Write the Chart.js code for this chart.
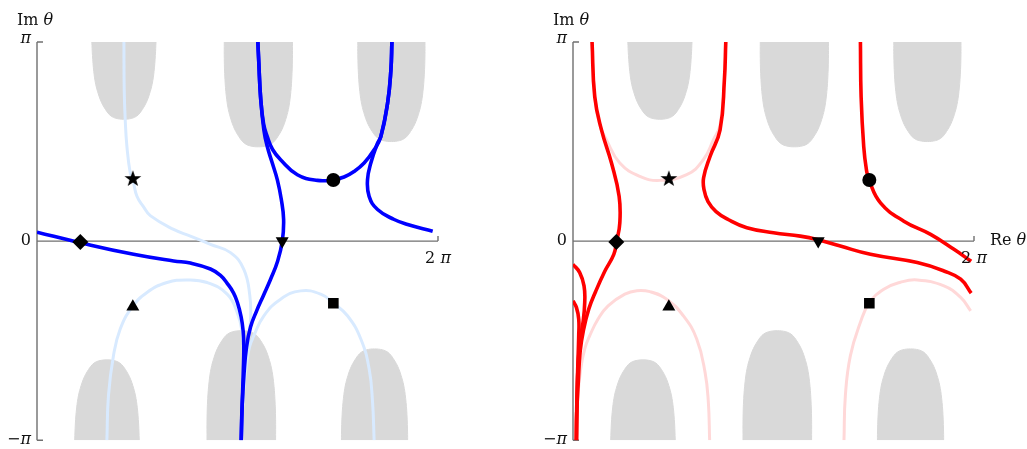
<!DOCTYPE html>
<html>
<head>
<meta charset="utf-8">
<script src="https://cdn.jsdelivr.net/npm/chart.js@4.4.1/dist/chart.umd.min.js"></script>
<style>
  html, body { margin: 0; padding: 0; background: #fff; }
  #wrap { position: relative; width: 1027px; height: 449px; }
  canvas { position: absolute; top: 0; }
  #left  { left: 0; }
  #right { left: 513px; }
</style>
</head>
<body>
<div id="wrap">
  <canvas id="left" width="513" height="449"></canvas>
  <canvas id="right" width="514" height="449"></canvas>
</div>
<script>
// all values in units of pi: x = Re(theta)/pi in 0..2, y = Im(theta)/pi in -1..1

// ── grey regions (same in both panels) ─────────────────────────────────────
// tip profile: distance from tip / half width -> half width fraction
const GRAY_DEPTH = [0, 0.03, 0.1, 0.2, 0.3, 0.45, 0.6, 0.8, 1.1, 1.5, 2.0, 2.6];
const GRAY_HALF  = [0, 0.25, 0.4, 0.5, 0.57, 0.66, 0.73, 0.8, 0.88, 0.94, 0.98, 1.0];
const GRAY_CX    = [0.4335, 1.104, 1.7675, 0.349, 1.019, 1.6835];
const GRAY_HW    = [0.16, 0.17, 0.1675, 0.161, 0.171, 0.165];
const GRAY_TIP   = [0.612, 0.4735, 0.5, -0.5965, -0.45, -0.5415];
const GRAY_SIDE  = [1, 1, 1, -1, -1, -1];   // 1 = hangs from top, -1 = rises from bottom

// ── left panel (blue) ──────────────────────────────────────────────────────
const blueA = [[0,0.045],[0.215,-0.008],[0.4815,-0.0665],[0.6815,-0.1],[0.765,-0.11],[0.865,-0.14],
  [0.915,-0.172],[0.9485,-0.212],[0.98,-0.26],[1.0,-0.31],[1.018,-0.38],[1.028,-0.45],[1.0315,-0.53],
  [1.029,-0.65],[1.024,-0.8],[1.0185,-1]];
const blueB = [[1.1015,1],[1.1065,0.892],[1.115,0.725],[1.1315,0.5585],[1.1485,0.475],[1.1735,0.392],
  [1.1985,0.3085],[1.2185,0.2085],[1.23,0.1085],[1.2235,0],[1.2,-0.1015],[1.165,-0.1915],[1.13,-0.2715],
  [1.095,-0.3515],[1.065,-0.4315],[1.045,-0.5315],[1.0325,-0.6665],[1.0225,-0.8415],[1.0185,-1]];
const blueC = [[1.1015,1],[1.1065,0.892],[1.115,0.725],[1.13,0.59],[1.1485,0.525],[1.175,0.46],
  [1.215,0.4085],[1.2985,0.3335],[1.3985,0.305],[1.4785,0.3085],[1.5315,0.322],[1.5815,0.35],
  [1.6315,0.392],[1.6815,0.4585],[1.715,0.525],[1.7485,0.692],[1.765,0.8585],[1.77,1]];
const blueD = [[1.77,1],[1.765,0.8585],[1.7485,0.692],[1.715,0.525],[1.6985,0.492],[1.665,0.392],
  [1.6485,0.3085],[1.6565,0.225],[1.6985,0.1585],[1.7815,0.1085],[1.8485,0.0835],[1.9735,0.05]];
const paleBlue1 = [[0.4335,1],[0.435,0.7585],[0.44,0.6085],[0.4485,0.475],[0.465,0.342],[0.4785,0.305],
  [0.4985,0.225],[0.5315,0.172],[0.565,0.128],[0.6815,0.0585],[0.765,0.025],[0.865,-0.0165],[0.965,-0.058],
  [1.0315,-0.1415],[1.0615,-0.275],[1.065,-0.3915],[1.05,-0.5415],[1.03,-0.7415],[1.02,-1]];
const paleBlue2 = [[0.3485,-1],[0.3565,-0.775],[0.3815,-0.575],[0.415,-0.4415],[0.4735,-0.333],
  [0.5485,-0.258],[0.6485,-0.208],[0.7485,-0.195],[0.8485,-0.208],[0.9485,-0.2665],[0.9985,-0.358],
  [1.0235,-0.458],[1.03,-0.5915],[1.025,-0.79],[1.02,-1]];
const paleBlue3 = [[1.02,-1],[1.03,-0.7665],[1.045,-0.6165],[1.06,-0.5315],[1.0815,-0.475],
  [1.1315,-0.375],[1.215,-0.2915],[1.315,-0.25],[1.415,-0.2665],[1.4785,-0.3115],[1.5485,-0.375],
  [1.615,-0.4915],[1.6565,-0.6415],[1.6735,-0.808],[1.6815,-1]];

// ── right panel (red) ──────────────────────────────────────────────────────
const red1 = [[0.095,1],[0.1085,0.725],[0.142,0.5585],[0.192,0.392],[0.23,0.225],[0.2335,0.092],
  [0.217,-0.005],[0.2035,-0.0665],[0.1585,-0.1515],[0.1135,-0.2515],[0.0785,-0.3415],[0.0535,-0.4415],
  [0.036,-0.5515],[0.026,-0.7165],[0.0185,-0.8665],[0.017,-1]];
const red2 = [[0,-0.1165],[0.0335,-0.158],[0.055,-0.225],[0.0585,-0.308],[0.05,-0.408],[0.0335,-0.508],
  [0.022,-0.708],[0.017,-1]];
const red3 = [[0,-0.3],[0.017,-0.333],[0.0285,-0.3915],[0.0285,-0.475],[0.0235,-0.6415],[0.0185,-0.8415],
  [0.017,-1]];
const red4 = [[0.762,1],[0.755,0.8085],[0.7335,0.5585],[0.6835,0.425],[0.6515,0.3185],[0.6535,0.2585],
  [0.6735,0.1985],[0.7135,0.1485],[0.7735,0.1085],[0.867,0.067],[1.0,0.042],[1.1335,0.025],[1.217,0.0085],
  [1.3335,-0.025],[1.4835,-0.0665],[1.717,-0.108],[1.85,-0.15],[1.9335,-0.1915],[1.986,-0.2615]];
const red5 = [[1.4335,1],[1.437,0.725],[1.45,0.475],[1.4635,0.3585],[1.477,0.305],[1.5335,0.192],
  [1.65,0.1],[1.7835,0.0335],[1.9,-0.0415],[1.986,-0.1015]];
const paleRed1 = [[0.095,1],[0.1085,0.725],[0.1335,0.5835],[0.167,0.5085],[0.2335,0.392],[0.3335,0.325],
  [0.4335,0.305],[0.567,0.3335],[0.65,0.4085],[0.7,0.5085],[0.7335,0.5835],[0.755,0.8085],[0.762,1]];
const paleRed2 = [[0.017,-1],[0.0235,-0.7915],[0.0385,-0.6415],[0.0585,-0.5415],[0.0835,-0.475],
  [0.125,-0.3915],[0.175,-0.325],[0.2585,-0.2665],[0.3185,-0.249],[0.3835,-0.254],[0.467,-0.2915],
  [0.55,-0.375],[0.617,-0.4915],[0.6585,-0.658],[0.675,-0.808],[0.6815,-1]];
const paleRed3 = [[1.3515,-1],[1.3585,-0.775],[1.3835,-0.575],[1.4335,-0.408],[1.477,-0.3115],
  [1.55,-0.2415],[1.6335,-0.2065],[1.717,-0.195],[1.85,-0.225],[1.9335,-0.283],[1.9835,-0.35]];

// ── markers (same spots in both panels) ────────────────────────────────────
const MARK_X     = [0.478, 0.216, 1.223, 1.478, 0.478, 1.478];
const MARK_Y     = [0.312, -0.005, 0, 0.307, -0.33, -0.312];
const MARK_SHAPE = ['star', 'rectRot', 'triangle', 'circle', 'triangle', 'rect'];
const MARK_ROT   = [0, 0, 180, 0, 0, 0];

// ── ticks ──────────────────────────────────────────────────────────────────
const Y_TICKS  = [1, 0, -1];
const Y_LABELS = [[['π', 1]], [['0', 0]], [['−', 0], ['π', 1]]];
const X_END = 2;
const X_END_LABEL = [['2 ', 0], ['π', 1]];

const FONT = '16px "DejaVu Serif", serif';
const AXIS_COLOR = '#707070';

function grayOutline(i) {
  const cx = GRAY_CX[i], hw = GRAY_HW[i], tip = GRAY_TIP[i], s = GRAY_SIDE[i];
  const clampY = y => s > 0 ? Math.min(y, 1) : Math.max(y, -1);
  const left = GRAY_DEPTH.map((d, k) => ({ x: cx - GRAY_HALF[k] * hw, y: clampY(tip + s * d * hw) }));
  const right = GRAY_DEPTH.map((d, k) => ({ x: cx + GRAY_HALF[k] * hw, y: clampY(tip + s * d * hw) }));
  return [{ x: cx - hw, y: s }, ...left.reverse(), ...right.slice(1), { x: cx + hw, y: s }];
}

function starImage(r) {
  const s = Math.ceil(r * 2) + 2;
  const c = document.createElement('canvas');
  c.width = c.height = s;
  const g = c.getContext('2d');
  g.translate(s / 2, s / 2);
  g.beginPath();
  for (let k = 0; k < 10; k++) {
    const a = -Math.PI / 2 + k * Math.PI / 5;
    const rr = k % 2 ? r * 0.4 : r;
    g.lineTo(rr * Math.cos(a), rr * Math.sin(a));
  }
  g.closePath();
  g.fillStyle = '#000';
  g.fill();
  return c;
}
const STAR = starImage(8.8);

function curve(pts, color, width, order) {
  return {
    data: pts.map(([x, y]) => ({ x, y })),
    showLine: true, borderColor: color, borderWidth: width,
    pointRadius: 0, tension: 0.45, fill: false, order,
    borderJoinStyle: 'round',
  };
}

function grayDatasets() {
  return GRAY_CX.map((_, i) => ({
    data: grayOutline(i), showLine: true, fill: 'shape',
    backgroundColor: '#d9d9d9', borderColor: '#d9d9d9', borderWidth: 1,
    pointRadius: 0, tension: 0.4, order: 9,
  }));
}

function markerDataset() {
  return {
    data: MARK_X.map((x, i) => ({ x, y: MARK_Y[i] })),
    showLine: false, order: 0,
    pointStyle: MARK_SHAPE.map(s => s === 'star' ? STAR : s),
    pointRotation: MARK_ROT,
    pointRadius: [8.8, 8, 7.5, 7, 7.5, 7.5],
    pointBackgroundColor: '#000', pointBorderWidth: 0,
  };
}

function drawRuns(ctx, runs, x, y, align) {
  const fonts = runs.map(r => (r[1] ? 'italic ' : '') + FONT);
  let total = 0;
  const widths = runs.map((r, i) => { ctx.font = fonts[i]; const w = ctx.measureText(r[0]).width; total += w; return w; });
  let cx = align === 'right' ? x - total : align === 'center' ? x - total / 2 : x;
  ctx.textAlign = 'left';
  runs.forEach((r, i) => { ctx.font = fonts[i]; ctx.fillText(r[0], cx, y); cx += widths[i]; });
}

const piAxes = {
  id: 'piAxes',
  beforeDatasetsDraw(chart) {
    const { ctx, scales: { x, y } } = chart;
    const x0 = x.getPixelForValue(0), x2 = x.getPixelForValue(X_END);
    const yT = y.getPixelForValue(1), y0 = y.getPixelForValue(0), yB = y.getPixelForValue(-1);
    ctx.save();
    ctx.strokeStyle = AXIS_COLOR;
    ctx.lineWidth = 1.4;
    ctx.beginPath();
    ctx.moveTo(x0, yT); ctx.lineTo(x0, yB);
    ctx.moveTo(x0, y0); ctx.lineTo(x2, y0);
    ctx.moveTo(x0, yT); ctx.lineTo(x0 + 6, yT);
    ctx.moveTo(x0, yB); ctx.lineTo(x0 + 6, yB);
    ctx.moveTo(x2, y0); ctx.lineTo(x2, y0 - 5);
    ctx.stroke();
    ctx.restore();
  },
  afterDraw(chart, args, opts) {
    const { ctx, scales: { x, y } } = chart;
    const x0 = x.getPixelForValue(0), x2 = x.getPixelForValue(X_END);
    const yT = y.getPixelForValue(1), y0 = y.getPixelForValue(0);
    ctx.save();
    ctx.fillStyle = '#111';
    ctx.textBaseline = 'middle';
    Y_TICKS.forEach((v, i) => drawRuns(ctx, Y_LABELS[i], x0 - 6, y.getPixelForValue(v) - (v === 1 ? 3 : 0), 'right'));
    drawRuns(ctx, X_END_LABEL, x2, y0 + 18, 'center');
    if (opts.re) drawRuns(ctx, [['Re ', 0], ['θ', 1]], x2 + 16, y0, 'left');
    ctx.textBaseline = 'alphabetic';
    drawRuns(ctx, [['Im ', 0], ['θ', 1]], x0 - 20, yT - 17, 'left');
    ctx.restore();
  },
};

function makeChart(id, dark, pale, padding, re) {
  const datasets = [markerDataset()];
  dark.forEach(p => datasets.push(curve(p.pts, p.color, 3.6, 1)));
  pale.forEach(p => datasets.push(curve(p.pts, p.color, 3, 2)));
  datasets.push(...grayDatasets());
  return new Chart(document.getElementById(id), {
    type: 'scatter',
    data: { datasets },
    plugins: [piAxes],
    options: {
      responsive: false,
      animation: false,
      devicePixelRatio: 1,
      events: [],
      layout: { padding },
      scales: {
        x: { type: 'linear', min: 0, max: 2, display: false },
        y: { type: 'linear', min: -1, max: 1, display: false },
      },
      plugins: { legend: { display: false }, tooltip: { enabled: false }, piAxes: { re } },
    },
  });
}

const BLUE = '#0000ff', PALE_BLUE = '#d8eaff';
const RED = '#ff0000', PALE_RED = '#ffd8d8';

makeChart('left',
  [blueA, blueB, blueC, blueD].map(pts => ({ pts, color: BLUE })),
  [paleBlue1, paleBlue2, paleBlue3].map(pts => ({ pts, color: PALE_BLUE })),
  { left: 37, top: 42, right: 75, bottom: 7 }, false);

makeChart('right',
  [red1, red2, red3, red4, red5].map(pts => ({ pts, color: RED })),
  [paleRed1, paleRed2, paleRed3].map(pts => ({ pts, color: PALE_RED })),
  { left: 60, top: 42, right: 53, bottom: 7 }, true);
</script>
</body>
</html>
